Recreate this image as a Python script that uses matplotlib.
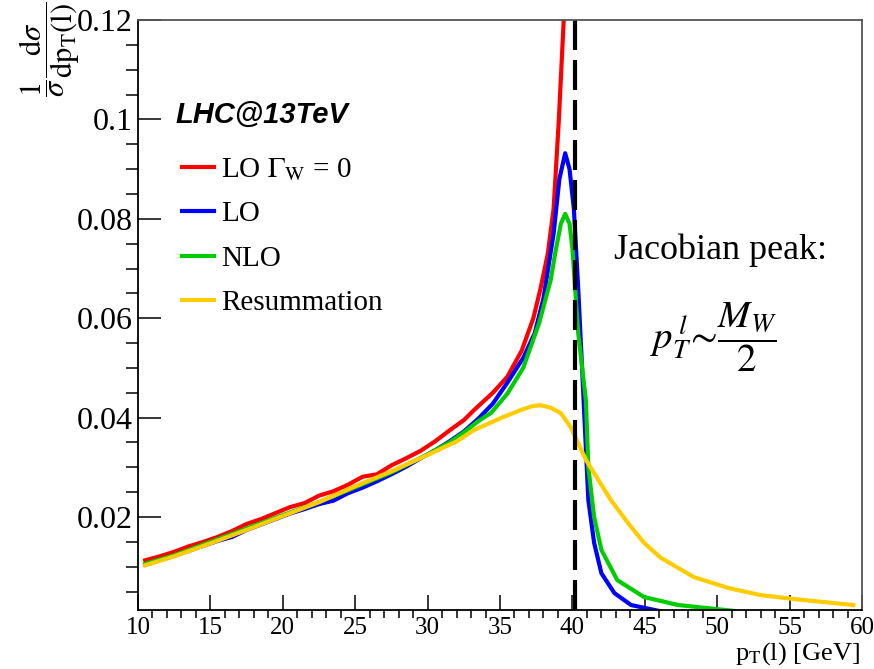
import numpy as np
import matplotlib
matplotlib.use('Agg')
import matplotlib.pyplot as plt
from matplotlib.ticker import MultipleLocator

plt.rcParams['font.family'] = ['Liberation Serif', 'DejaVu Serif']
plt.rcParams['mathtext.fontset'] = 'stix'

# LO with Gamma_W = 0
x_red = [10.5, 11.5, 12.5, 13.5, 14.5, 15.5, 16.5, 17.5, 18.5, 19.5, 20.5, 21.5,
         22.5, 23.5, 24.5, 25.5, 26.5, 27.5, 28.5, 29.5, 30.5, 31.5, 32.5, 33.2,
         34.5, 35.5, 36.5, 37.3, 37.8, 38.3, 38.7, 39.06, 39.4, 39.6]
y_red = [0.0113, 0.0121, 0.0130, 0.0141, 0.0150, 0.0160, 0.0172, 0.0186, 0.0196,
         0.0208, 0.0220, 0.0228, 0.0243, 0.0252, 0.0265, 0.0281, 0.0286, 0.0304,
         0.0318, 0.0333, 0.0352, 0.0374, 0.0395, 0.0415, 0.0450, 0.0482, 0.0535,
         0.0600, 0.0660, 0.0730, 0.0820, 0.0998, 0.1200, 0.1300]

# LO
x_lo = [10.5, 11.5, 12.5, 13.5, 14.5, 15.5, 16.5, 17.5, 18.5, 19.5, 20.5, 21.5,
        22.5, 23.5, 24.5, 25.5, 26.5, 27.5, 28.5, 29.5, 30.5, 31.5, 32.5, 33.5,
        34.5, 35.5, 36.6, 37.4, 38.0, 38.7, 39.1, 39.5, 39.8, 40.1, 40.4, 40.7,
        41.1, 41.5, 42.0, 42.9, 44.05, 46.0]
y_lo = [0.0104, 0.0113, 0.0122, 0.0132, 0.0142, 0.0152, 0.0160, 0.0174, 0.0185,
        0.0196, 0.0207, 0.0216, 0.0226, 0.0233, 0.0248, 0.0259, 0.0272, 0.0286,
        0.0301, 0.0318, 0.0334, 0.0352, 0.0372, 0.0398, 0.0428, 0.0470, 0.0520,
        0.0570, 0.0640, 0.0770, 0.0880, 0.0932, 0.0900, 0.0820, 0.0660, 0.0480,
        0.0234, 0.0148, 0.0087, 0.0047, 0.0023, 0.0011]

# NLO
x_nlo = [10.5, 12.5, 15.0, 17.5, 20.0, 22.5, 25.0, 27.5, 30.0, 31.5, 32.5, 33.5,
         34.4, 35.5, 36.6, 37.7, 38.5, 38.85, 39.2, 39.5, 39.8, 40.0, 40.4,
         40.93, 41.1, 41.5, 42.0, 43.1, 44.95, 47.3, 51.2]
y_nlo = [0.0106, 0.0123, 0.0150, 0.0177, 0.0204, 0.0230, 0.0260, 0.0290, 0.0326,
         0.0350, 0.0370, 0.0393, 0.0410, 0.0448, 0.0500, 0.0590, 0.0677, 0.0737,
         0.0790, 0.0810, 0.0790, 0.0740, 0.0570, 0.0435, 0.0300, 0.0200, 0.0134,
         0.0073, 0.0039, 0.0023, 0.0011]

# Resummation
x_res = [10.5, 12.5, 15.0, 17.5, 20.0, 22.5, 25.0, 27.5, 30.0, 32.0, 33.2, 35.05,
         36.4, 37.2, 37.8, 38.5, 39.2, 39.9, 40.93, 42.66, 43.84, 44.95, 46.1,
         48.4, 50.8, 53.0, 55.3, 59.4]
y_res = [0.0103, 0.0121, 0.0147, 0.0174, 0.0202, 0.0230, 0.0262, 0.0292, 0.0325,
         0.0352, 0.0375, 0.0399, 0.0415, 0.0423, 0.0425, 0.0420, 0.0409, 0.0380,
         0.0315, 0.0234, 0.0188, 0.0148, 0.0118, 0.0079, 0.0057, 0.0043, 0.0035,
         0.0023]

peak_x = 40.15
yticks = [0.02, 0.04, 0.06, 0.08, 0.10, 0.12]
ytick_labels = ['0.02', '0.04', '0.06', '0.08', '0.1', '0.12']
xticks = [10, 15, 20, 25, 30, 35, 40, 45, 50, 55, 60]

fig = plt.figure(figsize=(8.74, 6.69), dpi=100)
ax = fig.add_axes([0.1579, 0.0882, 0.8284, 0.8819])

lw = 3.0
ax.plot(x_red, y_red, color='#ff0000', lw=lw, label=r'LO $\Gamma_{\mathrm{W}}$ = 0')
ax.plot(x_lo, y_lo, color='#0000ff', lw=lw, label='LO')
ax.plot(x_nlo, y_nlo, color='#00cc00', lw=lw, label='NLO')
ax.plot(x_res, y_res, color='#ffcc00', lw=lw, label='Resummation')
ax.axvline(peak_x, color='black', lw=3.0, dashes=(7.2, 2.4))

ax.set_xlim(10, 60)
ax.set_ylim(0.0013, 0.12)
ax.set_xticks(xticks)
ax.set_yticks(yticks)
ax.set_yticklabels(ytick_labels)
ax.xaxis.set_minor_locator(MultipleLocator(1))
ax.yaxis.set_minor_locator(MultipleLocator(0.005))

ax.tick_params(axis='both', direction='in', width=1.1, top=False, right=False)
ax.tick_params(axis='x', which='major', length=11, labelsize=18, pad=5)
ax.tick_params(axis='x', which='minor', length=5.5, width=1.1)
ax.tick_params(axis='y', which='major', length=16.5, labelsize=23, pad=4)
ax.tick_params(axis='y', which='minor', length=8.5, width=1.1)
for s in ['left', 'bottom']:
    ax.spines[s].set_linewidth(1.3)
for s in ['top', 'right']:
    ax.spines[s].set_linewidth(1.3)
    ax.spines[s].set_color('#555555')

leg = ax.legend(loc='upper left', bbox_to_anchor=(182 / 874, 1 - 156 / 669),
                bbox_transform=fig.transFigure, frameon=False, fontsize=21,
                handlelength=1.1, handletextpad=0.25, labelspacing=0.62,
                borderpad=0, borderaxespad=0)

fig.text(175 / 874, 1 - 115 / 669, 'LHC@13TeV', fontsize=21, fontweight='bold',
         fontstyle='italic', family='Liberation Sans', va='center', ha='left')

fig.text(720 / 874, 1 - 250 / 669, 'Jacobian peak:', fontsize=26,
         ha='center', va='center')
fig.text(713 / 874, 1 - 337 / 669, r'$p_T^{\,l}\!\sim\!\dfrac{M_W}{2}$', fontsize=28,
         ha='center', va='center')

fig.text(0.057, 0.998, r'$\dfrac{1}{\sigma}\dfrac{\mathrm{d}\sigma}{\mathrm{dp}_{\mathrm{T}}\mathrm{(l)}}$',
         rotation=90, fontsize=22, ha='center', va='top')
fig.text(860 / 874, 2 / 669, r'p$_{\mathrm{T}}$(l) [GeV]', fontsize=19,
         ha='right', va='bottom')

fig.savefig('out.png', dpi=100)
